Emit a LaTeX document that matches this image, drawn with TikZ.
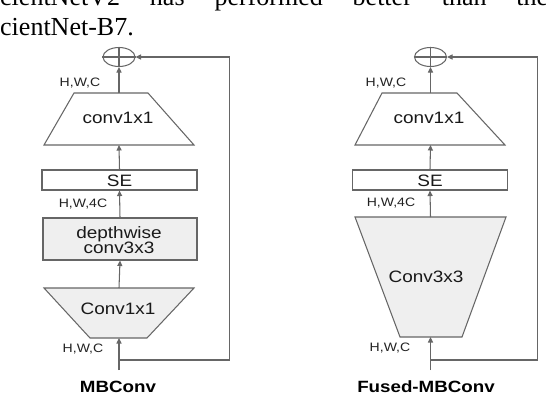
\documentclass[tikz,border=0pt]{standalone}
\usepackage{fontspec}
\setmainfont{Liberation Serif}
\newfontfamily\dg[FakeStretch=1.15]{Liberation Sans}
\usetikzlibrary{arrows.meta,shapes.geometric}
\definecolor{ln}{HTML}{666666}
\definecolor{fl}{HTML}{EFEFEF}
\definecolor{tx}{HTML}{222222}
\begin{document}
\begin{tikzpicture}[x=1pt,y=-1pt,
  shp/.style={draw=ln,line width=1.05pt},
  arr/.style={draw=ln,line width=1.05pt,-{Triangle[length=5.5pt,width=5pt]}},
  lbl/.style={font=\dg\fontsize{12.2}{13}\selectfont,text=tx,inner sep=0},
  txt/.style={font=\dg\fontsize{16.5}{17}\selectfont,text=black!90,inner sep=0,align=center},
  ttl/.style={font=\dg\bfseries\fontsize{16.3}{17}\selectfont,inner sep=0},
  boxw/.style={shp,rectangle,fill=white,inner sep=0,minimum width=155pt},
  addnode/.style={shp,ellipse,minimum width=32pt,minimum height=19pt,inner sep=0}]
\useasboundingbox (0,0) rectangle (546,400);
\clip (0,0) rectangle (546,400);
\fill[white] (0,0) rectangle (546,400);
% header text
\node[anchor=base west,inner sep=0,font=\fontsize{26}{30}\selectfont] (t1) at (0,5) {\makebox[548pt][s]{cientNetV2 has performed better than the}};
\node[anchor=base west,inner sep=0,font=\fontsize{26}{30}\selectfont] (t2) at (0,35) {cientNet-B7.};

% ===== Left: MBConv =====
\node[addnode] (addL) at (119,57) {};
\draw[shp] (addL.north) -- (addL.south) (addL.west) -- (addL.east);
\coordinate (T1t) at (119,93);
\coordinate (T1b) at (119,145);
\draw[shp] (74,93) -- (148,93) -- (194,145) -- (44,145) -- cycle;
\node[txt] (T1txt) at (118,118) {conv1x1};
\node[lbl] (hwcL1) at (80,83) {H,W,C};
\node[boxw,minimum height=20pt] (seL) at (119.5,180) {};
\node[txt] (seLtxt) at (119.5,180.5) {SE};
\node[lbl] (hw4L) at (83,204) {H,W,4C};
\node[shp,rectangle,fill=fl,inner sep=0,minimum width=154pt,minimum height=42pt] (dwL) at (120,239) {};
\node[txt] (dwLtxt) at (119,240) {depthwise\\[-1.5pt]conv3x3};
\coordinate (B1t) at (119,288);
\coordinate (B1b) at (119,338);
\filldraw[shp,fill=fl] (44,288) -- (194,288) -- (147,338) -- (90,338) -- cycle;
\node[txt] (B1txt) at (118,309) {Conv1x1};
\node[lbl] (hwcL2) at (83,349) {H,W,C};
\coordinate (inL) at (119,370);
\coordinate (fbL1) at (119,360);
\coordinate (fbL2) at (229.5,360);
\coordinate (fbL3) at (229.5,57);
\draw[arr] (inL) -- (B1b);
\draw[arr] (B1t) -- (dwL.south);
\draw[arr] (dwL.north) -- (seL.south);
\draw[arr] (seL.north) -- (T1b);
\draw[arr] (T1t) -- (addL.south);
\draw[arr] (fbL1) -- (fbL2) -- (fbL3) -- (addL.east);
\node[ttl] (mbc) at (118,387) {MBConv};

% ===== Right: Fused-MBConv =====
\node[addnode] (addR) at (430.5,57) {};
\draw[shp] (addR.north) -- (addR.south) (addR.west) -- (addR.east);
\coordinate (T2t) at (430.5,93);
\coordinate (T2b) at (430.5,145);
\draw[shp] (382,93) -- (457,93) -- (505,145) -- (355,145) -- cycle;
\node[txt] (T2txt) at (429,118) {conv1x1};
\node[lbl] (hwcR1) at (386,83) {H,W,C};
\node[boxw,minimum height=20pt] (seR) at (430,180) {};
\node[txt] (seRtxt) at (430,180.5) {SE};
\node[lbl] (hw4R) at (391,203) {H,W,4C};
\coordinate (B2t) at (430.5,217);
\coordinate (B2b) at (430.5,337);
\filldraw[shp,fill=fl] (355,217) -- (506,217) -- (462,337) -- (400,337) -- cycle;
\node[txt] (B2txt) at (426,277) {Conv3x3};
\node[lbl] (hwcR2) at (390,348) {H,W,C};
\coordinate (inR) at (430.5,370);
\coordinate (fbR1) at (430.5,360);
\coordinate (fbR2) at (537.5,360);
\coordinate (fbR3) at (537.5,57);
\draw[arr] (inR) -- (B2b);
\draw[arr] (B2t) -- (seR.south);
\draw[arr] (seR.north) -- (T2b);
\draw[arr] (T2t) -- (addR.south);
\draw[arr] (fbR1) -- (fbR2) -- (fbR3) -- (addR.east);
\node[ttl] (fmbc) at (426,387) {Fused-MBConv};
\end{tikzpicture}
\end{document}
